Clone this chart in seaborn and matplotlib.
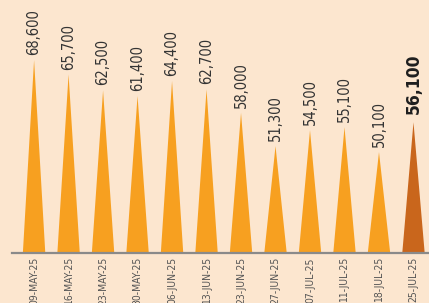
import matplotlib
matplotlib.use("Agg")
import matplotlib.pyplot as plt
from matplotlib.patches import Polygon
import seaborn as sns
import pandas as pd

# --- data ---
dates = ["09-MAY-25", "16-MAY-25", "23-MAY-25", "30-MAY-25", "06-JUN-25", "13-JUN-25",
         "23-JUN-25", "27-JUN-25", "07-JUL-25", "11-JUL-25", "18-JUL-25", "25-JUL-25"]
values = [68600, 65700, 62500, 61400, 64400, 62700, 58000, 51300, 54500, 55100, 50100, 56100]

bg = "#fce6cf"
orange = "#f7a020"
dark_orange = "#c9661c"

df = pd.DataFrame({"date": dates, "value": values})

sns.set_theme(style="white")
plt.rcParams['font.family'] = ['DejaVu Sans']
plt.rcParams['font.stretch'] = 'condensed'

fig = plt.figure(figsize=(4.29, 3.03), dpi=100, facecolor=bg)
ax = fig.add_axes([12 / 429, 50 / 303, 417 / 429, 253 / 303])
ax.set_facecolor(bg)

sns.barplot(x="date", y="value", data=df, width=0.65, color=orange, ax=ax)

ax.set_xlim(-0.64, 11.45)
ax.set_ylim(29800, 80700)
base = ax.get_ylim()[0]

# turn the bars into spikes
for i, p in enumerate(ax.patches):
    x0, w, h = p.get_x(), p.get_width(), p.get_height()
    p.set_visible(False)
    last = i == len(values) - 1
    col = dark_orange if last else orange
    tri = Polygon([(x0, base), (x0 + w / 2, h), (x0 + w, base)], closed=True,
                  facecolor=col, edgecolor="none")
    ax.add_patch(tri)
    ax.text(x0 + w / 2, h + (1700 if last else 1000), f"{values[i]:,}", rotation=90,
            ha="center", va="bottom", fontstretch="condensed",
            fontsize=12.5 if last else 10.5, fontweight="bold" if last else "normal",
            color="#1e1e1e" if last else "#333333")

for s in ["top", "right", "left"]:
    ax.spines[s].set_visible(False)
ax.spines["bottom"].set_color("#8a8a8a")
ax.spines["bottom"].set_linewidth(1.6)

ax.set_yticks([])
ax.set_xlabel("")
ax.set_ylabel("")
ax.tick_params(axis="x", length=0, pad=3)
plt.setp(ax.get_xticklabels(), rotation=90, fontsize=7.5, color="#555555",
         fontstretch="condensed")

fig.savefig("out.png", dpi=100, facecolor=bg)
